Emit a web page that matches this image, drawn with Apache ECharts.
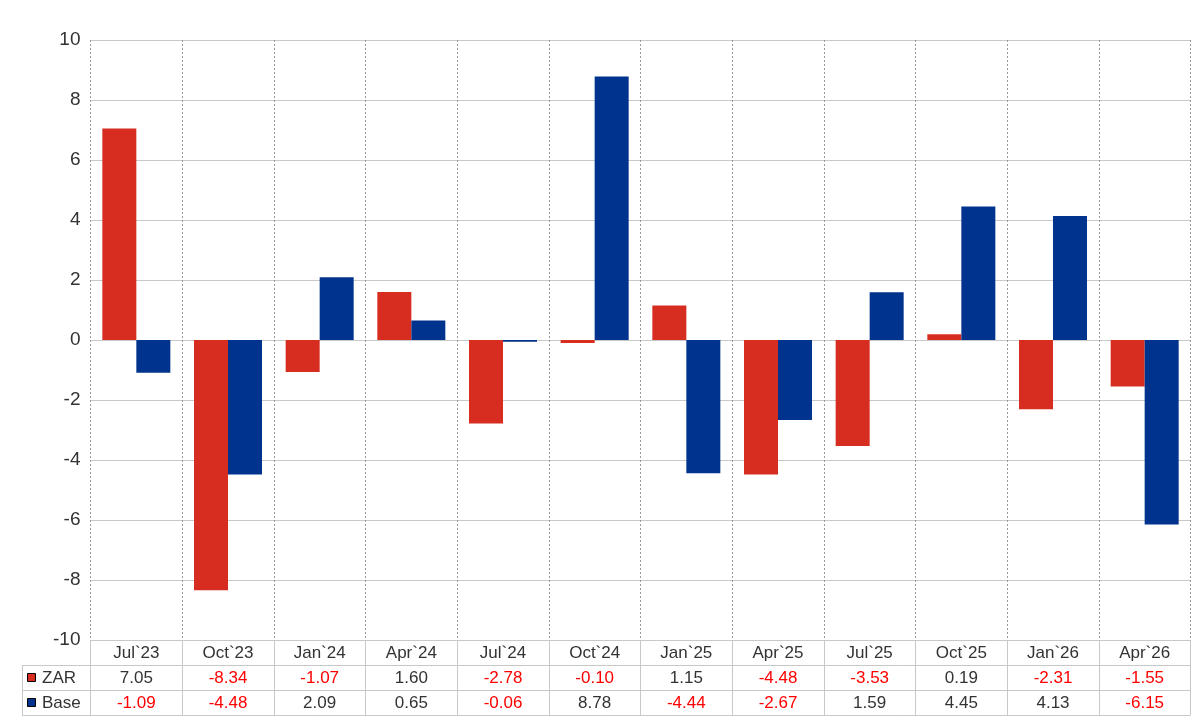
<!DOCTYPE html>
<html><head><meta charset="utf-8">
<script src="https://cdn.jsdelivr.net/npm/echarts@6/dist/echarts.min.js"></script>
<style>html,body{margin:0;padding:0;background:#fff}#c{width:1200px;height:720px}</style>
</head><body><div id="c"></div>
<script>
const categories = ["Jul`23","Oct`23","Jan`24","Apr`24","Jul`24","Oct`24","Jan`25","Apr`25","Jul`25","Oct`25","Jan`26","Apr`26"];
const zar  = [7.05, -8.34, -1.07, 1.60, -2.78, -0.10, 1.15, -4.48, -3.53, 0.19, -2.31, -1.55];
const base = [-1.09, -4.48, 2.09, 0.65, -0.06, 8.78, -4.44, -2.67, 1.59, 4.45, 4.13, -6.15];
const seriesNames = ["ZAR", "Base"];
const yTicks = {min: -10, max: 10, interval: 2};

const RED = '#d62d20', BLUE = '#00338d';
const FONT = '"Liberation Sans", Arial, sans-serif';

function fmt(v){ return (v < 0 ? '{n|' : '{p|') + v.toFixed(2) + '}'; }

const chart = echarts.init(document.getElementById('c'), null, {renderer:'canvas'});
const L = 90.5, R = 9.5, T = 40, B = 80;
const tableRows = [665, 690, 715];

chart.setOption({
  animation: false,
  textStyle: {fontFamily: FONT},
  grid: {left: L, right: R, top: T, bottom: B, containLabel: false},
  xAxis: {
    type: 'category', data: categories,
    axisLine: {show: true, onZero: false, lineStyle: {color: '#c8c8c8', width: 1}},
    axisTick: {show: true, length: 75, alignWithLabel: false, lineStyle: {color: '#c8c8c8'}},
    splitLine: {show: true, lineStyle: {color: '#999', type: [2, 2], width: 1}},
    axisLabel: {
      margin: 1, interval: 0, fontFamily: FONT, fontSize: 17, color: '#333', lineHeight: 25,
      formatter: function(v, i){ return '{c|' + v + '}\n' + fmt(zar[i]) + '\n' + fmt(base[i]); },
      rich: {
        c: {fontSize: 17, color: '#333', lineHeight: 25, fontFamily: FONT},
        p: {fontSize: 17, color: '#333', lineHeight: 25, fontFamily: FONT},
        n: {fontSize: 17, color: '#ff0000', lineHeight: 25, fontFamily: FONT}
      }
    }
  },
  yAxis: {
    type: 'value', min: yTicks.min, max: yTicks.max, interval: yTicks.interval,
    axisLine: {show: false}, axisTick: {show: false},
    axisLabel: {fontFamily: FONT, fontSize: 19, color: '#333', margin: 10},
    splitLine: {show: true, lineStyle: {color: '#c8c8c8', width: 1}}
  },
  series: [
    {name: seriesNames[0], type: 'bar', data: zar, barWidth: 34, barGap: '0%', itemStyle: {color: RED}},
    {name: seriesNames[1], type: 'bar', data: base, barWidth: 34, barGap: '0%', itemStyle: {color: BLUE}}
  ]
});

const x0 = 22, x1 = 1200 - R;
const g = [];
tableRows.forEach(function(y){
  g.push({type:'line', shape:{x1:x0, y1:y+0.5, x2:x1, y2:y+0.5}, style:{stroke:'#c8c8c8', lineWidth:1}, z:10});
});
g.push({type:'line', shape:{x1:x0+0.5, y1:665, x2:x0+0.5, y2:715}, style:{stroke:'#c8c8c8', lineWidth:1}, z:10});
[RED, BLUE].forEach(function(col, i){
  const yc = 678 + i*25;
  g.push({type:'rect', shape:{x:27.5, y:yc-4.5, width:8, height:8}, style:{fill:col, stroke:'#000', lineWidth:1}, z:10});
  g.push({type:'text', x:42, y:yc, style:{text:seriesNames[i], fontFamily:FONT, fontSize:17, fill:'#333', verticalAlign:'middle', align:'left'}, z:10});
});
chart.setOption({graphic: g});
</script></body></html>
